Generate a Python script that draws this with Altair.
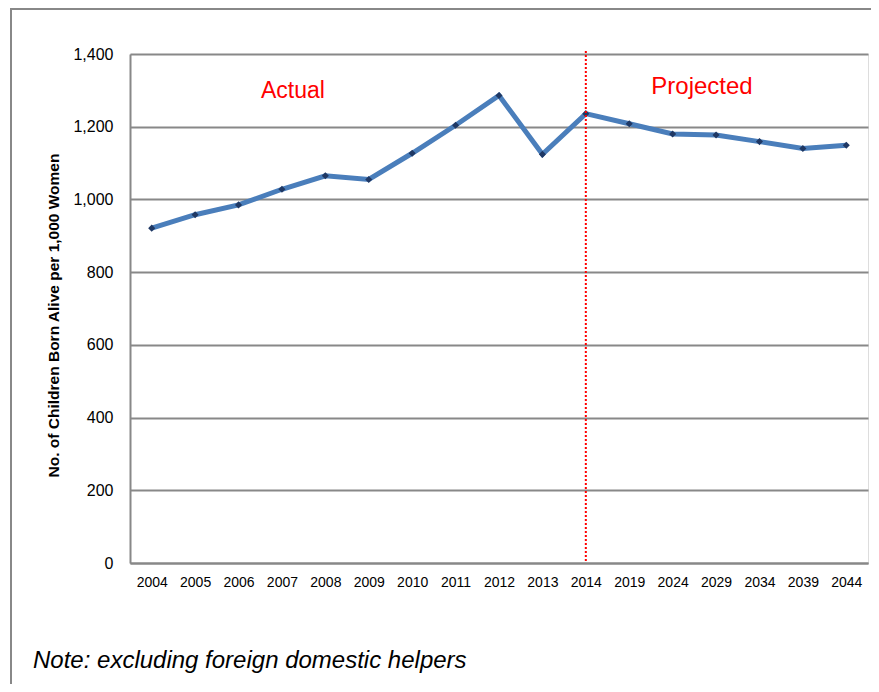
import altair as alt
import pandas as pd

years = ["2004", "2005", "2006", "2007", "2008", "2009", "2010", "2011", "2012",
         "2013", "2014", "2019", "2024", "2029", "2034", "2039", "2044"]
values = [921, 958, 985, 1028, 1065, 1055, 1127, 1204, 1286,
          1124, 1236, 1208, 1180, 1177, 1159, 1140, 1149]
y_ticks = [0, 200, 400, 600, 800, 1000, 1200, 1400]
divider_year = ["2014"]
labels = ["Actual", "Projected"]
note = "Note: excluding foreign domestic helpers"
y_title = "No. of Children Born Alive per 1,000 Women"

df = pd.DataFrame({"year": years, "value": values})

W, H = 738, 509
FONT = "Liberation Sans"
GRAY = "#888888"

xscale = alt.Scale(type="point", padding=0.5, domain=years)
yscale = alt.Scale(domain=[0, 1400], nice=False)

x_enc = alt.X("year:O", scale=xscale, sort=years,
              axis=alt.Axis(title=None, labelAngle=0, labelFontSize=14, labelFont=FONT,
                            labelColor="#000", labelPadding=12, ticks=False,
                            domainColor=GRAY, domainWidth=2, grid=False))
y_enc = alt.Y("value:Q", scale=yscale,
              axis=alt.Axis(title=y_title, values=y_ticks, format=",.0f", ticks=False,
                            labelPadding=17, labelFontSize=16, labelFont=FONT, labelColor="#000",
                            titleFont=FONT, titleFontSize=15.5, titleFontWeight="bold",
                            titleColor="#000", titlePadding=11, titleY=261,
                            gridColor=GRAY, gridWidth=2, gridOpacity=1,
                            domainColor=GRAY, domainWidth=2))

frame = alt.Chart(pd.DataFrame({"a": [0]})).mark_rect(
    filled=False, stroke=GRAY, strokeWidth=2, clip=False
).encode(x=alt.value(-119), x2=alt.value(900), y=alt.value(-45), y2=alt.value(720))

line = alt.Chart(df).mark_line(color="#4A7EBB", strokeWidth=5).encode(x=x_enc, y=y_enc)

points = alt.Chart(df).mark_point(shape="diamond", filled=True, color="#1F3864",
                                  size=50, opacity=1).encode(
    x=alt.X("year:O", scale=xscale, sort=years),
    y=alt.Y("value:Q", scale=yscale))

rule = alt.Chart(pd.DataFrame({"year": divider_year})).mark_rule(
    color="#FF0000", strokeDash=[2, 2], strokeWidth=2
).encode(x=alt.X("year:O", scale=xscale, sort=years), y=alt.value(-3), y2=alt.value(H))

txt_actual = alt.Chart(pd.DataFrame({"t": [labels[0]]})).mark_text(
    font=FONT, fontSize=23, color="#FF0000", align="center", baseline="middle"
).encode(text="t:N", x=alt.value(163), y=alt.value(37))

txt_proj = alt.Chart(pd.DataFrame({"t": [labels[1]]})).mark_text(
    font=FONT, fontSize=24, color="#FF0000", align="center", baseline="middle"
).encode(text="t:N", x=alt.value(572), y=alt.value(33))

txt_note = alt.Chart(pd.DataFrame({"t": [note]})).mark_text(
    font=FONT, fontSize=24, fontStyle="italic", color="#000", align="left", baseline="middle"
).encode(text="t:N", x=alt.value(-97), y=alt.value(607))

chart = alt.layer(frame, line, points, rule, txt_actual, txt_proj, txt_note).properties(
    width=W, height=H,
    padding={"left": 122, "top": 46, "right": 3, "bottom": 121},
    autosize=alt.AutoSizeParams(type="none"),
).configure_view(stroke=None).configure(background="white")

chart.save("out.html", embed_options={"renderer": "svg", "actions": False})
